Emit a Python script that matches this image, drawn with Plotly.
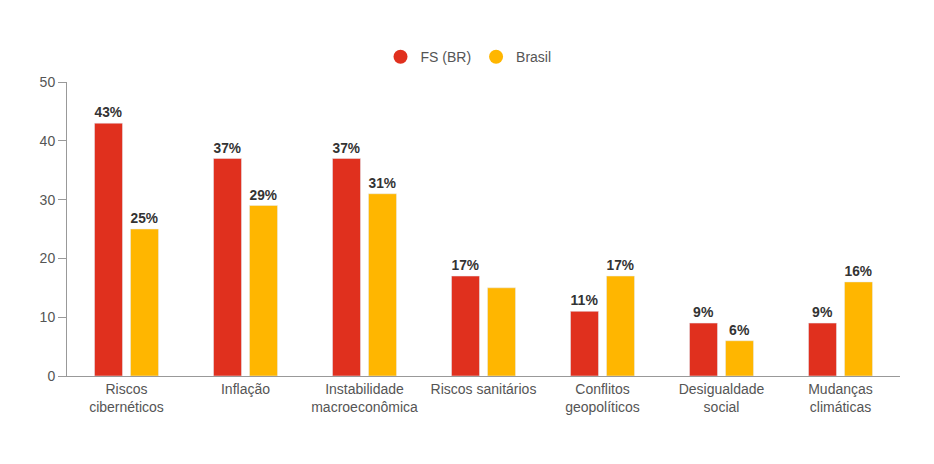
import plotly.graph_objects as go

categories = ["Riscos<br>cibernéticos", "Inflação", "Instabilidade<br>macroeconômica",
              "Riscos sanitários", "Conflitos<br>geopolíticos", "Desigualdade<br>social",
              "Mudanças<br>climáticas"]
fs_br = [43, 37, 37, 17, 11, 9, 9]
brasil = [25, 29, 31, 15, 17, 6, 16]
fs_labels = ["43%", "37%", "37%", "17%", "11%", "9%", "9%"]
brasil_labels = ["25%", "29%", "31%", "", "17%", "6%", "16%"]
y_ticks = [0, 10, 20, 30, 40, 50]

RED = "#E0301E"
YEL = "#FFB600"
FONT = "Liberation Sans, Arial, sans-serif"

fig = go.Figure()
fig.add_trace(go.Bar(x=categories, y=fs_br, name="FS (BR)", marker_color=RED,
                     text=fs_labels, textposition="outside", cliponaxis=False,
                     textfont=dict(size=14, color="#333333", family=FONT, weight="bold"),
                     showlegend=False))
fig.add_trace(go.Bar(x=categories, y=brasil, name="Brasil", marker_color=YEL,
                     text=brasil_labels, textposition="outside", cliponaxis=False,
                     textfont=dict(size=14, color="#333333", family=FONT, weight="bold"),
                     showlegend=False))
for nm, col in [("FS (BR)", RED), ("Brasil", YEL)]:
    fig.add_trace(go.Scatter(x=[None], y=[None], mode="markers", name=nm,
                             marker=dict(symbol="circle", size=14, color=col)))

fig.update_layout(
    width=926, height=456,
    margin=dict(l=59, r=34, t=74, b=88),
    paper_bgcolor="white", plot_bgcolor="white",
    barmode="group", bargap=0.395, bargroupgap=0.222,
    font=dict(family=FONT, size=14, color="#555555"),
    legend=dict(orientation="h", x=0.482, xanchor="center", y=1.03, yanchor="bottom",
                font=dict(size=14, color="#555555"), itemwidth=30,
                tracegroupgap=0, traceorder="normal"),
    xaxis=dict(showline=True, linecolor="#999999", linewidth=1, ticks="",
               tickfont=dict(size=14, color="#555555"), fixedrange=True),
    yaxis=dict(range=[0, 50], tickvals=y_ticks, showgrid=False, zeroline=False,
               showline=True, linecolor="#999999", linewidth=1, ticks="outside",
               ticklen=8, tickcolor="#999999", tickfont=dict(size=14, color="#555555")),
)
fig.write_html("out.html")
